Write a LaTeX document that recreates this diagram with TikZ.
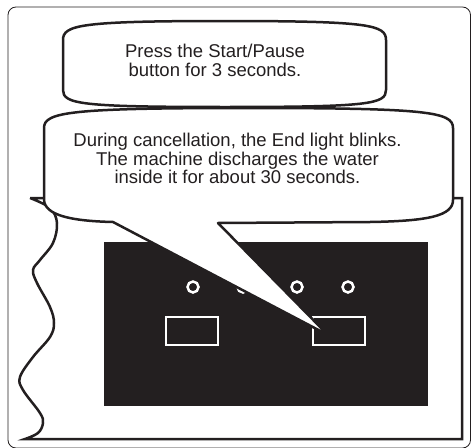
\documentclass[tikz,border=0pt]{standalone}
\usepackage{fontspec}
\setmainfont{Liberation Sans}
\definecolor{inkblack}{HTML}{231F20}

\begin{document}
\begin{tikzpicture}[x=1pt,y=-1pt,
  frameline/.style={draw=inkblack,line width=0.8pt,rounded corners=8pt},
  panelline/.style={draw=inkblack,line width=2.5pt},
  bubble/.style={draw=inkblack,fill=white,line width=2.5pt,line join=round},
  bubbletext/.style={align=center,font=\fontsize{18.5}{18.5}\selectfont,text=inkblack,inner sep=0pt},
  lamp/.style={draw=white,line width=2.5pt},
  keybox/.style={draw=white,line width=2pt}
]
\useasboundingbox (0,0) rectangle (471,447);

% outer frame
\draw[frameline] (8,7) rectangle (470.5,448);

% machine panel with torn left edge
\draw[panelline] (30,198) -- (462,198) -- (462,439) -- (25,439)
  -- plot[smooth,tension=0.6] coordinates {(25,439) (38,433) (43,423) (40,413) (23,390)
     (20,377) (33,357) (50,337) (54,323) (50,307) (37,283) (33,270) (40,260)
     (53,243) (57,223) (50,208) (30,198)};

% control display
\fill[inkblack] (104,242) rectangle (428,406);
\foreach \x in {193,243,297,348}
  \draw[lamp] (\x,287) circle (5.5);
\draw[keybox] (166,317) rectangle (218,345);
\draw[keybox] (313,317) rectangle (365,345);
\coordinate (tip) at (328,335);

% first callout
\draw[bubble] (63,40) .. controls (63,25) and (80,21) .. (225,21)
  .. controls (370,21) and (386,25) .. (386,40) -- (386,90)
  .. controls (386,104) and (370,107) .. (225,107)
  .. controls (80,107) and (63,104) .. (63,90) -- cycle;
\node[bubbletext] (startnote) at (215,60.5) {Press the Start/Pause\\button for 3 seconds.};

% second callout pointing at the key
\draw[bubble] (44,128) .. controls (44,112) and (70,108) .. (248,108)
  .. controls (428,108) and (453,112) .. (453,128) -- (453,200)
  .. controls (453,216) and (428,221) .. (370,222) -- (218,223) -- (tip) -- (113,222)
  .. controls (70,221) and (45,215) .. (44,200) -- cycle;
\node[bubbletext] (cancelnote) at (237.5,158.5) {During cancellation, the End light blinks.\\The machine discharges the water\\inside it for about 30 seconds.};

\end{tikzpicture}
\end{document}
